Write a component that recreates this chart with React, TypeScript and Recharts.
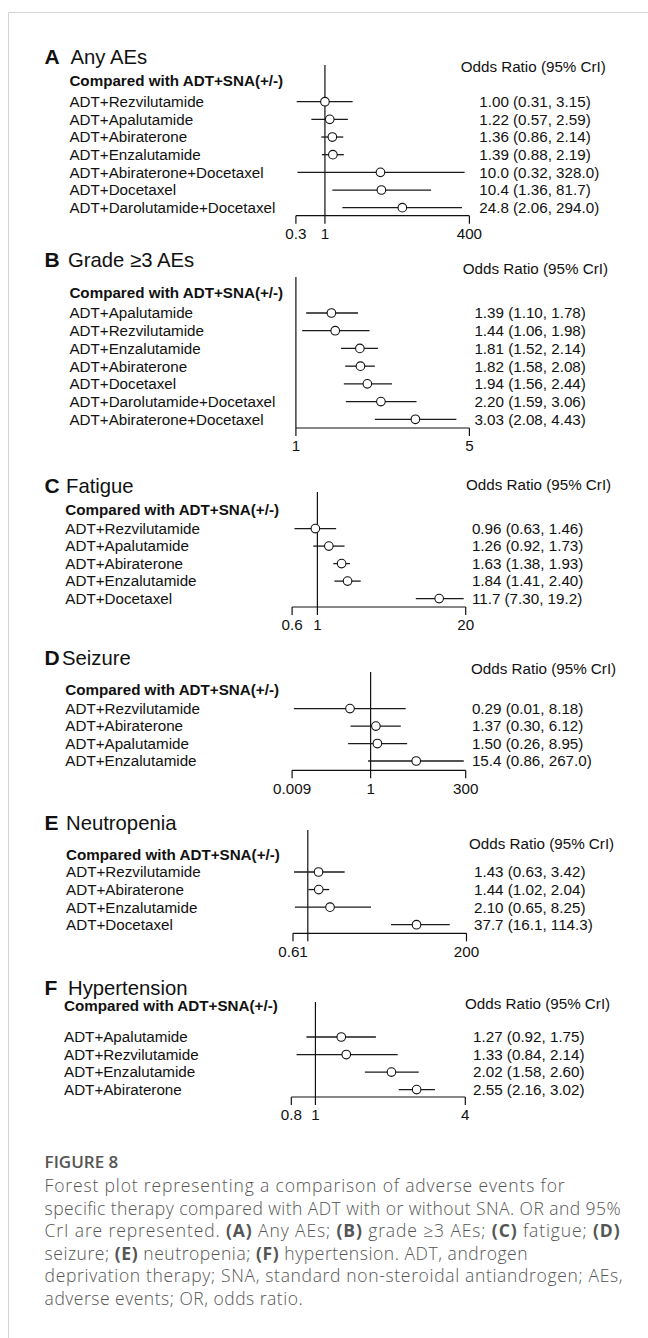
import React from 'react';
import { ComposedChart, Scatter, XAxis, YAxis, ReferenceLine, ErrorBar } from 'recharts';

const FONT = '"Liberation Sans", Arial, Helvetica, sans-serif';
const CAP_FONT = '"Open Sans", "Noto Sans", sans-serif';

// ---------- Panel A: Any AEs ----------
const aNames = ['ADT+Rezvilutamide', 'ADT+Apalutamide', 'ADT+Abiraterone', 'ADT+Enzalutamide', 'ADT+Abiraterone+Docetaxel', 'ADT+Docetaxel', 'ADT+Darolutamide+Docetaxel'];
const aOR = [1.0, 1.22, 1.36, 1.39, 10.0, 10.4, 24.8];
const aLow = [0.31, 0.57, 0.86, 0.88, 0.32, 1.36, 2.06];
const aHigh = [3.15, 2.59, 2.14, 2.19, 328.0, 81.7, 294.0];
const aText = ['1.00 (0.31, 3.15)', '1.22 (0.57, 2.59)', '1.36 (0.86, 2.14)', '1.39 (0.88, 2.19)', '10.0 (0.32, 328.0)', '10.4 (1.36, 81.7)', '24.8 (2.06, 294.0)'];
const aTicks = [0.3, 1, 400];
const aTickLabels = ['0.3', '1', '400'];

// ---------- Panel B: Grade >=3 AEs ----------
const bNames = ['ADT+Apalutamide', 'ADT+Rezvilutamide', 'ADT+Enzalutamide', 'ADT+Abiraterone', 'ADT+Docetaxel', 'ADT+Darolutamide+Docetaxel', 'ADT+Abiraterone+Docetaxel'];
const bOR = [1.39, 1.44, 1.81, 1.82, 1.94, 2.2, 3.03];
const bLow = [1.1, 1.06, 1.52, 1.58, 1.56, 1.59, 2.08];
const bHigh = [1.78, 1.98, 2.14, 2.08, 2.44, 3.06, 4.43];
const bText = ['1.39 (1.10, 1.78)', '1.44 (1.06, 1.98)', '1.81 (1.52, 2.14)', '1.82 (1.58, 2.08)', '1.94 (1.56, 2.44)', '2.20 (1.59, 3.06)', '3.03 (2.08, 4.43)'];
const bTicks = [1, 5];
const bTickLabels = ['1', '5'];

// ---------- Panel C: Fatigue ----------
const cNames = ['ADT+Rezvilutamide', 'ADT+Apalutamide', 'ADT+Abiraterone', 'ADT+Enzalutamide', 'ADT+Docetaxel'];
const cOR = [0.96, 1.26, 1.63, 1.84, 11.7];
const cLow = [0.63, 0.92, 1.38, 1.41, 7.3];
const cHigh = [1.46, 1.73, 1.93, 2.4, 19.2];
const cText = ['0.96 (0.63, 1.46)', '1.26 (0.92, 1.73)', '1.63 (1.38, 1.93)', '1.84 (1.41, 2.40)', '11.7 (7.30, 19.2)'];
const cTicks = [0.6, 1, 20];
const cTickLabels = ['0.6', '1', '20'];

// ---------- Panel D: Seizure ----------
const dNames = ['ADT+Rezvilutamide', 'ADT+Abiraterone', 'ADT+Apalutamide', 'ADT+Enzalutamide'];
const dOR = [0.29, 1.37, 1.5, 15.4];
const dLow = [0.01, 0.3, 0.26, 0.86];
const dHigh = [8.18, 6.12, 8.95, 267.0];
const dText = ['0.29 (0.01, 8.18)', '1.37 (0.30, 6.12)', '1.50 (0.26, 8.95)', '15.4 (0.86, 267.0)'];
const dTicks = [0.009, 1, 300];
const dTickLabels = ['0.009', '1', '300'];

// ---------- Panel E: Neutropenia ----------
const eNames = ['ADT+Rezvilutamide', 'ADT+Abiraterone', 'ADT+Enzalutamide', 'ADT+Docetaxel'];
const eOR = [1.43, 1.44, 2.1, 37.7];
const eLow = [0.63, 1.02, 0.65, 16.1];
const eHigh = [3.42, 2.04, 8.25, 114.3];
const eText = ['1.43 (0.63, 3.42)', '1.44 (1.02, 2.04)', '2.10 (0.65, 8.25)', '37.7 (16.1, 114.3)'];
const eTicks = [0.61, 1, 200];
const eTickLabels = ['0.61', '', '200'];

// ---------- Panel F: Hypertension ----------
const fNames = ['ADT+Apalutamide', 'ADT+Rezvilutamide', 'ADT+Enzalutamide', 'ADT+Abiraterone'];
const fOR = [1.27, 1.33, 2.02, 2.55];
const fLow = [0.92, 0.84, 1.58, 2.16];
const fHigh = [1.75, 2.14, 2.6, 3.02];
const fText = ['1.27 (0.92, 1.75)', '1.33 (0.84, 2.14)', '2.02 (1.58, 2.60)', '2.55 (2.16, 3.02)'];
const fTicks = [0.8, 1, 4];
const fTickLabels = ['0.8', '1', '4'];

const HEADER = 'Compared with ADT+SNA(+/-)';
const ODDS = 'Odds Ratio (95% CrI)';

type Layout = {
  titleY: number; titleX: number; oddsY: number; oddsX: number; refTop: number; comparedY: number;
  labelX: number; valueX: number; row0: number; rowN: number; axisY: number; x0: number; x1: number;
};
type Panel = {
  letter: string; title: string; names: string[]; or: number[]; low: number[]; high: number[];
  text: string[]; ticks: number[]; tickLabels: string[]; L: Layout;
};

const panels: Panel[] = [
  { letter: 'A', title: 'Any AEs', names: aNames, or: aOR, low: aLow, high: aHigh, text: aText, ticks: aTicks, tickLabels: aTickLabels,
    L: { titleY: 63.5, titleX: 70.5, oddsY: 66.7, oddsX: 460.7, refTop: 65, comparedY: 81, labelX: 69.4, valueX: 479.3, row0: 101.7, rowN: 207.7, axisY: 215.7, x0: 295.9, x1: 469.4 } },
  { letter: 'B', title: 'Grade \u22653 AEs', names: bNames, or: bOR, low: bLow, high: bHigh, text: bText, ticks: bTicks, tickLabels: bTickLabels,
    L: { titleY: 267, titleX: 68, oddsY: 268.3, oddsX: 462.8, refTop: 276.7, comparedY: 292.7, labelX: 69.4, valueX: 474.4, row0: 312.7, rowN: 419, axisY: 427.7, x0: 295.9, x1: 469.4 } },
  { letter: 'C', title: 'Fatigue', names: cNames, or: cOR, low: cLow, high: cHigh, text: cText, ticks: cTicks, tickLabels: cTickLabels,
    L: { titleY: 492.7, titleX: 66, oddsY: 485, oddsX: 466, refTop: 491.7, comparedY: 509.3, labelX: 65.3, valueX: 471.9, row0: 528.3, rowN: 598.3, axisY: 606.7, x0: 292.1, x1: 465.7 } },
  { letter: 'D', title: 'Seizure', names: dNames, or: dOR, low: dLow, high: dHigh, text: dText, ticks: dTicks, tickLabels: dTickLabels,
    L: { titleY: 665, titleX: 62, oddsY: 668.3, oddsX: 471, refTop: 671.7, comparedY: 689.3, labelX: 65.3, valueX: 471.9, row0: 708.3, rowN: 760.7, axisY: 770, x0: 292.1, x1: 465.7 } },
  { letter: 'E', title: 'Neutropenia', names: eNames, or: eOR, low: eLow, high: eHigh, text: eText, ticks: eTicks, tickLabels: eTickLabels,
    L: { titleY: 830, titleX: 66, oddsY: 843.3, oddsX: 469, refTop: 830, comparedY: 855, labelX: 66.1, valueX: 474, row0: 872, rowN: 924.7, axisY: 933.3, x0: 293, x1: 466.5 } },
  { letter: 'F', title: 'Hypertension', names: fNames, or: fOR, low: fLow, high: fHigh, text: fText, ticks: fTicks, tickLabels: fTickLabels,
    L: { titleY: 995, titleX: 68, oddsY: 1003.3, oddsX: 465, refTop: 1001.7, comparedY: 1006, labelX: 64, valueX: 473.1, row0: 1036.7, rowN: 1089.3, axisY: 1096.7, x0: 291.3, x1: 465.3 } },
];

const FS = 15.2;
const AXIS_H = 40;

function Forest({ p }: { p: Panel }) {
  const L = p.L;
  const n = p.names.length;
  const s = (L.rowN - L.row0) / (n - 1);
  const dTop = -(L.row0 - L.refTop) / s;
  const dBot = n - 1 + (L.axisY - L.rowN) / s;
  const rows = p.names.map((_, i) => i);
  const data = p.names.map((name, i) => ({
    idx: i,
    name,
    or: p.or[i],
    err: [p.or[i] - p.low[i], p.high[i] - p.or[i]],
  }));
  const h = L.axisY - L.refTop + AXIS_H;

  const rowTick = (props: any) => {
    const { y, payload } = props;
    const i = payload.value as number;
    return (
      <g>
        <text x={L.labelX} y={y} dy="0.355em" fontSize={FS} fontFamily={FONT} fill="#111" textAnchor="start">{p.names[i]}</text>
        <text x={L.valueX} y={y} dy="0.355em" fontSize={FS} fontFamily={FONT} fill="#111" textAnchor="start">{p.text[i]}</text>
      </g>
    );
  };

  const circle = (props: any) => (
    <circle cx={props.cx} cy={props.cy} r={4.3} fill="#fff" stroke="#111" strokeWidth={1.1} />
  );

  return (
    <div style={{ position: 'absolute', left: 0, top: L.refTop, width: 648, height: h }}>
      <ComposedChart width={648} height={h} data={data} margin={{ top: 0, right: 648 - L.x1, bottom: 0, left: 0 }}>
        <XAxis
          type="number"
          dataKey="or"
          scale="log"
          domain={[p.ticks[0], p.ticks[p.ticks.length - 1]]}
          ticks={p.ticks}
          interval={0}
          allowDataOverflow
          height={AXIS_H}
          tickSize={8}
          tickMargin={4.5}
          stroke="#111"
          strokeWidth={1.2}
          tick={{ fill: '#111', fontSize: FS, fontFamily: FONT }}
          tickFormatter={(v: number) => {
            const k = p.ticks.indexOf(v);
            return k >= 0 ? p.tickLabels[k] : '';
          }}
        />
        <YAxis
          type="number"
          dataKey="idx"
          domain={[dTop, dBot]}
          reversed
          allowDataOverflow
          ticks={rows}
          interval={0}
          width={L.x0}
          axisLine={false}
          tickLine={false}
          tick={rowTick}
        />
        <ReferenceLine x={1} stroke="#111" strokeWidth={1.2} />
        <Scatter data={data} isAnimationActive={false} shape={circle}>
          <ErrorBar dataKey="err" direction="x" width={0} stroke="#1a1a1a" strokeWidth={1.3} isAnimationActive={false} />
        </Scatter>
      </ComposedChart>
    </div>
  );
}

function StaticText() {
  const capLines: React.ReactNode[] = [
    <>Forest plot representing a comparison of adverse events for</>,
    <>specific therapy compared with ADT with or without SNA. OR and 95%</>,
    <>CrI are represented. <tspan fontWeight={700}>(A)</tspan> Any AEs; <tspan fontWeight={700}>(B)</tspan> grade {'\u2265'}3 AEs; <tspan fontWeight={700}>(C)</tspan> fatigue; <tspan fontWeight={700}>(D)</tspan></>,
    <>seizure; <tspan fontWeight={700}>(E)</tspan> neutropenia; <tspan fontWeight={700}>(F)</tspan> hypertension. ADT, androgen</>,
    <>deprivation therapy; SNA, standard non-steroidal antiandrogen; AEs,</>,
    <>adverse events; OR, odds ratio.</>,
  ];
  const capY = [1192, 1214.5, 1237, 1259.5, 1282, 1304.5];
  const capW = [520, 576, 575, 483, 578, 258];
  return (
    <svg width={648} height={1338} style={{ position: 'absolute', left: 0, top: 0 }}>
      <line x1={8.5} y1={12.5} x2={648} y2={12.5} stroke="#d4d4d4" strokeWidth={1} />
      <line x1={8.5} y1={12.5} x2={8.5} y2={1338} stroke="#d4d4d4" strokeWidth={1} />
      {panels.map((p) => (
        <g key={p.letter}>
          <text x={44.6} y={p.L.titleY} fontSize={21} fontWeight={700} fontFamily={FONT} fill="#111">{p.letter}</text>
          <text x={p.L.titleX} y={p.L.titleY} fontSize={20.3} fontFamily={FONT} fill="#111">{p.title}</text>
          <text x={p.L.labelX} y={p.L.comparedY} dy="0.355em" fontSize={FS} fontWeight={700} fontFamily={FONT} fill="#111">{HEADER}</text>
          <text x={p.L.oddsX} y={p.L.oddsY} dy="0.355em" fontSize={FS} fontFamily={FONT} fill="#111">{ODDS}</text>
        </g>
      ))}
      <text x={44.6} y={1168} fontSize={17} fontWeight={600} fontFamily={CAP_FONT} fill="#555">FIGURE 8</text>
      {capLines.map((c, i) => (
        <text key={i} x={44.6} y={capY[i]} fontSize={17.5} fontWeight={300} fontFamily={CAP_FONT} fill="#555" textLength={capW[i]} lengthAdjust="spacing">{c}</text>
      ))}
    </svg>
  );
}

export default function App() {
  return (
    <div style={{ position: 'absolute', left: 0, top: 0, width: 648, height: 1338, background: '#fff' }}>
      <StaticText />
      {panels.map((p) => (
        <Forest key={p.letter} p={p} />
      ))}
    </div>
  );
}
